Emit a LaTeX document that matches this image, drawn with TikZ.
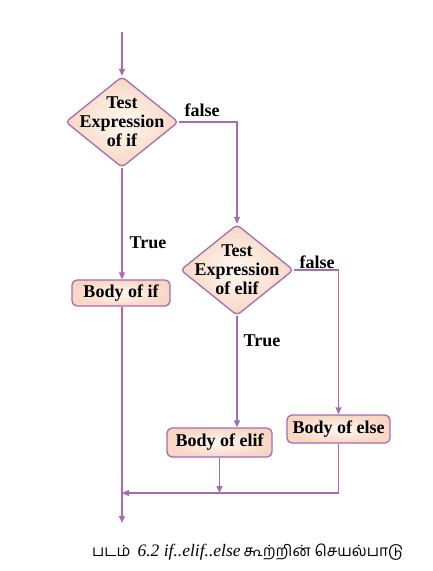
\documentclass[tikz,border=0pt]{standalone}
\usepackage{fontspec}
\setmainfont{Liberation Serif}
\newfontfamily\tamilfont[Script=Tamil]{Hind Madurai}
\usetikzlibrary{shapes.geometric,arrows.meta,calc}
\definecolor{flow}{HTML}{A66BB0}
\definecolor{peachout}{HTML}{F7D6C3}
\definecolor{peachin}{HTML}{FFF8F3}
\tikzset{
  flowline/.style={draw=flow, line width=1.3pt},
  arr/.style={flowline, -{Triangle[length=7pt,width=6pt]}},
  decision/.style={diamond, draw=flow, line width=1.3pt, rounded corners=4pt,
    inner sep=0pt, shading=radial, inner color=peachin, outer color=peachout},
  bodybox/.style={rectangle, draw=flow, line width=1.3pt, rounded corners=5pt,
    inner sep=0pt, shading=radial, inner color=peachin, outer color=peachout,
    font=\fontsize{18}{19}\selectfont\bfseries},
  dtext/.style={align=center, font=\fontsize{18}{19}\selectfont\bfseries},
  lbl/.style={font=\fontsize{18}{19}\selectfont\bfseries, inner sep=0pt}
}
\begin{document}
\begin{tikzpicture}[x=1pt,y=-1pt]
\useasboundingbox (0,0) rectangle (433,571);
% nodes
\node[decision, minimum width=113pt, minimum height=91pt] (d1) at (122,122) {};
\node[dtext] (t1) at (d1.center) {Test\\Expression\\of if};
\node[decision, minimum width=113pt, minimum height=91pt] (d2) at (237,270) {};
\node[dtext] (t2) at (d2.center) {Test\\Expression\\of elif};
\node[bodybox, minimum width=98pt, minimum height=26pt] (bif) at (121,293) {Body of if};
\node[bodybox, minimum width=105pt, minimum height=29pt] (belif) at (219.5,442.5) {Body of elif};
\node[bodybox, minimum width=103pt, minimum height=28pt] (belse) at (338.5,429) {Body of else};
\coordinate (start) at (122,32);
\coordinate (end) at (122,523);
\coordinate (merge) at (122,493);
% labels
\node[lbl] (f1) at (202,110) {false};
\node[lbl] (tr1) at (148,243) {True};
\node[lbl] (f2) at (317,262) {false};
\node[lbl] (tr2) at (262,341) {True};
% connectors
\draw[arr] (start) -- (d1.north);
\draw[arr] (d1.east) -| (d2.north);
\draw[arr] (d1.south) -- (d1.south |- bif.north);
\draw[arr] (d2.east) -| (belse.north);
\draw[arr] (d2.south) -- (d2.south |- belif.north);
\draw[arr] (bif.south -| start) -- (end);
\draw[arr] (belif.south) -- (belif.south |- merge);
\draw[arr] (belse.south) -- (belse.south |- merge) -- (merge);
% caption
\node[anchor=base west, inner sep=0pt] (cap) at (92,556)
  {{\tamilfont\fontsize{15.5}{17}\selectfont படம்}\hspace{7pt}{\fontsize{17.5}{19}\selectfont\itshape 6.2 if..elif..else}\hspace{3pt}{\tamilfont\fontsize{15.5}{17}\selectfont கூற்றின் செயல்பாடு}};
\end{tikzpicture}
\end{document}
